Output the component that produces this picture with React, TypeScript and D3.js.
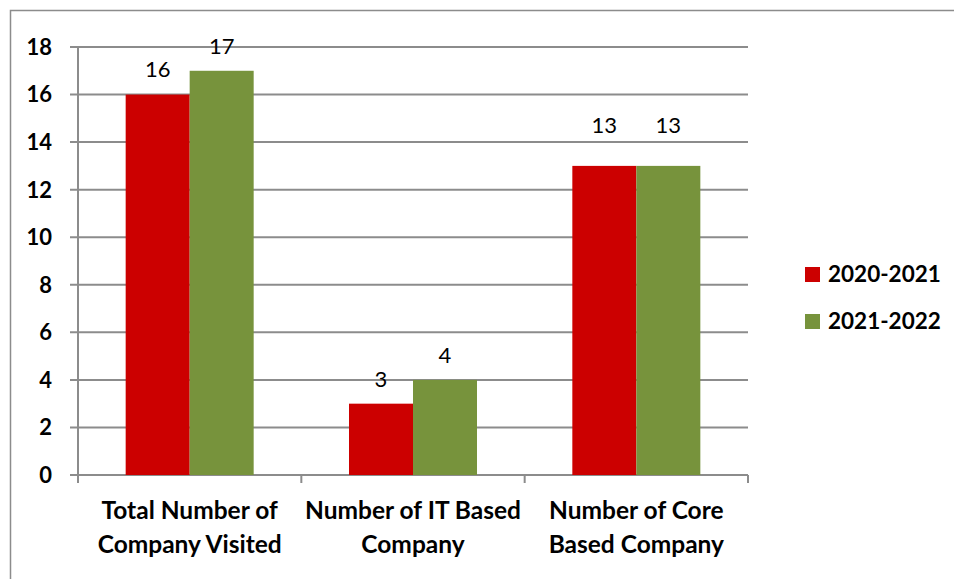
import React from "react";
import * as d3 from "d3";

const categories = [
  ["Total Number of", "Company Visited"],
  ["Number of IT Based", "Company"],
  ["Number of Core", "Based Company"],
];
const seriesNames = ["2020-2021", "2021-2022"];
const values2020 = [16, 3, 13];
const values2021 = [17, 4, 13];
const yTicks = [0, 2, 4, 6, 8, 10, 12, 14, 16, 18];
const colors = ["#CC0000", "#77933C"];
const labelGap = [25, 25, 41];

export default function App() {
  const W = 954, H = 579;
  const left = 78, right = 748, top = 47, bottom = 475;
  const x = d3.scaleBand().domain(d3.range(categories.length).map(String)).range([left, right]).paddingInner(0).paddingOuter(0);
  const y = d3.scaleLinear().domain([0, 18]).range([bottom, top]);
  const barW = 64;
  const series = [values2020, values2021];
  const font = "Lato, 'Open Sans', sans-serif";
  return (
    <svg width={W} height={H} style={{ position: "absolute", left: 0, top: 0 }}>
      <rect x={0} y={0} width={W} height={H} fill="#fff" />
      <path d="M10.5,579 V10.5 H954" fill="none" stroke="#8c8c8c" strokeWidth={1.5} />
      {yTicks.map((t) => (
        <g key={t}>
          <line x1={70} x2={right} y1={y(t)} y2={y(t)} stroke="#8c8c8c" strokeWidth={2} />
          <text x={52} y={y(t)} dy="0.36em" textAnchor="end" fontFamily={font} fontWeight="bold" fontSize={22} fill="#000">{t}</text>
        </g>
      ))}
      <line x1={left} x2={left} y1={top} y2={bottom + 8} stroke="#8c8c8c" strokeWidth={2} />
      {[0, 1, 2, 3].map((i) => {
        const xx = left + i * x.bandwidth();
        return <line key={i} x1={xx} x2={xx} y1={bottom} y2={bottom + 8} stroke="#8c8c8c" strokeWidth={2} />;
      })}
      {categories.map((c, ci) => {
        const cx = (x(String(ci)) as number) + x.bandwidth() / 2;
        return (
          <g key={ci}>
            {series.map((s, si) => {
              const bx = cx - barW + si * barW;
              return (
                <g key={si}>
                  <rect x={bx} y={y(s[ci])} width={barW} height={bottom - y(s[ci])} fill={colors[si]} />
                  <text x={bx + barW / 2} y={y(s[ci]) - labelGap[ci]} dy="0.36em" textAnchor="middle" fontFamily={font} fontSize={22} fill="#000">{s[ci]}</text>
                </g>
              );
            })}
            {c.map((line, li) => (
              <text key={li} x={cx} y={510 + li * 34} dy="0.36em" textAnchor="middle" fontFamily={font} fontWeight="bold" fontSize={24.5} fill="#000">{line}</text>
            ))}
          </g>
        );
      })}
      {seriesNames.map((n, i) => (
        <g key={n}>
          <rect x={805} y={267 + i * 47} width={15} height={15} fill={colors[i]} />
          <text x={828} y={274 + i * 47} dy="0.36em" fontFamily={font} fontWeight="bold" fontSize={22.5} fill="#000">{n}</text>
        </g>
      ))}
    </svg>
  );
}
